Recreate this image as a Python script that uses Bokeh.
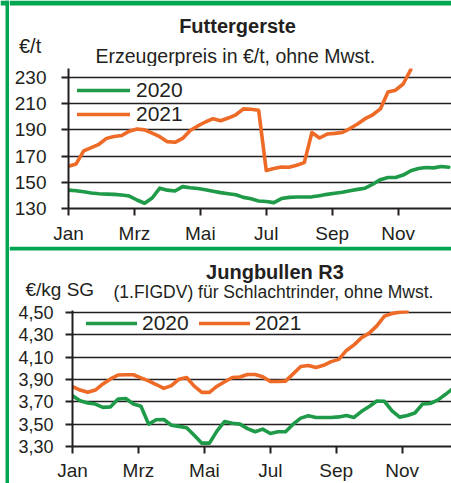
from bokeh.plotting import figure
from bokeh.models import FixedTicker, Legend, LegendItem, Label, Range1d, BoxAnnotation
from bokeh.layouts import column, row
from bokeh.embed import file_html
from bokeh.resources import INLINE

# ---------------- data ----------------
month_labels = ["Jan", "Mrz", "Mai", "Jul", "Sep", "Nov"]
month_ticks = [0, 2, 4, 6, 8, 10]

# Futtergerste, Erzeugerpreis in €/t (weekly)
gerste_2020 = [144, 143.5, 142.8, 141.8, 141.3, 141, 140.8, 140.3, 139.5, 136.5,
               134, 138, 145.5, 144, 143.3, 146.7, 145.8, 145.2, 144.3, 143.2,
               142.1, 141.3, 140.5, 138.5, 137.5, 135.7, 135.3, 134.5, 137.6, 138.5,
               138.8, 138.8, 138.9, 139.8, 140.8, 141.6, 142.4, 143.6, 144.6, 145.5,
               148.5, 152, 153.6, 153.7, 155.5, 158.8, 160.5, 161.3, 161, 162, 161.5]
gerste_2021 = [162.3, 164, 174, 176.5, 179, 183.5, 185, 185.7, 189, 190.6,
               190, 187.5, 184.8, 181, 180.5, 183.5, 189.5, 193, 196, 198.5,
               197, 199, 201.5, 206, 205.7, 205, 159, 160.5, 161.7, 161.5,
               163, 165, 188, 183.8, 186.8, 187.3, 188, 191, 194.5, 198.5,
               201.5, 206, 218.8, 220.3, 225, 236]
gerste_ticks = [130, 150, 170, 190, 210, 230]

# Jungbullen R3, €/kg SG (weekly)
bullen_2020 = [3.754, 3.71, 3.69, 3.68, 3.65, 3.655, 3.725, 3.73, 3.68, 3.66,
               3.50, 3.54, 3.542, 3.49, 3.48, 3.468, 3.40, 3.33, 3.33, 3.44,
               3.524, 3.508, 3.50, 3.46, 3.432, 3.456, 3.416, 3.432, 3.432, 3.50,
               3.554, 3.575, 3.56, 3.56, 3.56, 3.565, 3.578, 3.56, 3.615, 3.658,
               3.707, 3.705, 3.62, 3.563, 3.577, 3.60, 3.68, 3.685, 3.715, 3.765, 3.82]
bullen_2021 = [3.837, 3.805, 3.786, 3.805, 3.86, 3.905, 3.94, 3.942, 3.942, 3.915,
               3.888, 3.855, 3.82, 3.845, 3.903, 3.918, 3.84, 3.785, 3.785, 3.84,
               3.88, 3.918, 3.922, 3.945, 3.945, 3.925, 3.882, 3.882, 3.885, 3.95,
               4.016, 4.025, 4.007, 4.027, 4.06, 4.08, 4.16, 4.21, 4.275, 4.315,
               4.38, 4.467, 4.49, 4.503, 4.506]
bullen_ticks = [3.30, 3.50, 3.70, 3.90, 4.10, 4.30, 4.50]
bullen_tick_labels = ["3,30", "3,50", "3,70", "3,90", "4,10", "4,30", "4,50"]


def weeks(n):
    return [i * 12 / 52 for i in range(n)]


# ---------------- style ----------------
FONT = "Liberation Sans"
INK = "#231f20"
GREEN = "#1e9a48"
ORANGE = "#ee6a27"
FRAME_GREEN = "#00a651"
TOTAL_W, TOTAL_H = 451, 483
COL_X = 9                       # content column starts here
CW = TOTAL_W - COL_X            # 442
BASE_SHIFT = 5                  # label baseline correction (px)


def blank(x0, x1, top, bottom):
    """Figure without axes whose data units are page pixels (y downwards)."""
    h = figure(width=x1 - x0, height=bottom - top, output_backend="svg",
               toolbar_location=None, title=None, frame_align=False,
               x_axis_location=None, y_axis_location=None, min_border=0,
               x_range=Range1d(x0, x1), y_range=Range1d(bottom, top))
    h.grid.visible = False
    h.outline_line_color = None
    h.background_fill_color = "white"
    h.border_fill_color = "white"
    return h


def green_box(h, left, right, top, bottom):
    h.add_layout(BoxAnnotation(left=left, right=right, top=top, bottom=bottom,
                               fill_color=FRAME_GREEN, fill_alpha=1,
                               line_color=None))


def header(top, bottom, texts):
    h = blank(COL_X, TOTAL_W, top, bottom)
    for (x, y, txt, align, size, bold) in texts:
        h.add_layout(Label(x=x, y=y - BASE_SHIFT, text=txt, text_align=align,
                           text_baseline="alphabetic",
                           text_font=FONT, text_font_size=size, text_color=INK,
                           text_font_style="bold" if bold else "normal"))
    return h


def chart(height, left, top, fh, ppx, y0, ppy, yticks, ylabels, ystand, xstand,
          ysize="19px"):
    fw = CW - left
    p = figure(width=CW, height=height, output_backend="svg", toolbar_location=None,
               title=None, frame_align=False,
               x_range=Range1d(0, fw / ppx), y_range=Range1d(y0, y0 + fh / ppy),
               min_border_left=left, min_border_right=0, min_border_top=top,
               min_border_bottom=height - top - fh)
    p.outline_line_color = None
    p.background_fill_color = "white"
    p.border_fill_color = "white"
    p.xgrid.visible = False
    p.ygrid.ticker = FixedTicker(ticks=yticks)
    p.ygrid.grid_line_color = INK
    p.ygrid.grid_line_width = 1.6
    for ax in (p.xaxis[0], p.yaxis[0]):
        ax.axis_line_color = INK
        ax.axis_line_width = 2
        ax.major_tick_line_color = INK
        ax.major_tick_line_width = 2
        ax.major_tick_in = 0
        ax.major_tick_out = 7
        ax.minor_tick_line_color = None
        ax.major_label_text_font = FONT
        ax.major_label_text_color = INK
    p.xaxis.major_label_text_font_size = "19px"
    p.yaxis.major_label_text_font_size = ysize
    p.xaxis.ticker = FixedTicker(ticks=month_ticks)
    p.xaxis.major_label_overrides = {t: l for t, l in zip(month_ticks, month_labels)}
    p.yaxis.ticker = FixedTicker(ticks=yticks)
    p.yaxis.major_label_overrides = {t: l for t, l in zip(yticks, ylabels)}
    p.yaxis.major_label_standoff = ystand
    p.xaxis.major_label_standoff = xstand
    return p


def legend(items, location, orientation, glyph_w, standoff, spacing):
    return Legend(items=items, location=location, orientation=orientation,
                  label_text_font=FONT, label_text_font_size="21px", label_text_color=INK,
                  glyph_width=glyph_w, glyph_height=24, label_height=24,
                  label_standoff=standoff, spacing=spacing, padding=0, margin=0,
                  border_line_color=None, background_fill_alpha=0)


# ---------------- left frame strip (page x 0..9) ----------------
strip = blank(0, COL_X, 0, TOTAL_H)
green_box(strip, 0, COL_X, 0, 5)
green_box(strip, 5, COL_X, 0, TOTAL_H)

# ---------------- top block (page y 0..246) ----------------
head1 = header(0, 66, [
    (237, 30.7, "Futtergerste", "center", "20px", True),
    (18.5, 50, "€/t", "left", "20px", False),
    (95, 60, "Erzeugerpreis in €/t, ohne Mwst.", "left", "19.5px", False),
])
green_box(head1, COL_X, TOTAL_W, 0, 5)

p1 = chart(180, 59, 2, 141, 32.96, 130, 1.32, gerste_ticks,
           [str(t) for t in gerste_ticks], 15, 7)
r1a = p1.line(weeks(len(gerste_2020)), gerste_2020, line_color=GREEN, line_width=3.6,
              line_join="round", line_cap="round")
r1b = p1.line(weeks(len(gerste_2021)), gerste_2021, line_color=ORANGE, line_width=3.6,
              line_join="round", line_cap="round")
p1.add_layout(legend([LegendItem(label="2020", renderers=[r1a]),
                      LegendItem(label="2021", renderers=[r1b])],
                     (9, 82), "vertical", 53, 6, 0))

# ---------------- bottom block (page y 246..483) ----------------
head2 = header(246, 302, [
    (274.5, 276.5, "Jungbullen R3", "center", "20px", True),
    (25, 294, "€/kg SG", "left", "19px", False),
    (113, 296.2, "(1.FIGDV) für Schlachtrinder, ohne Mwst.", "left", "17.5px", False),
])
green_box(head2, COL_X, TOTAL_W, 246, 250)

p2 = chart(181, 63, 8, 136, 32.97, 3.30, 111.7, bullen_ticks, bullen_tick_labels,
           12, 6, ysize="18px")
r2a = p2.line(weeks(len(bullen_2020)), bullen_2020, line_color=GREEN, line_width=3.6,
              line_join="round", line_cap="round")
r2b = p2.line(weeks(len(bullen_2021)), bullen_2021, line_color=ORANGE, line_width=3.6,
              line_join="round", line_cap="round")
p2.add_layout(legend([LegendItem(label="2020", renderers=[r2a]),
                      LegendItem(label="2021", renderers=[r2b])],
                     (14, 111), "horizontal", 51, 5, 10))

content = column(head1, p1, head2, p2, spacing=0)
layout = row(strip, content, spacing=0)

open("out.html", "w").write(file_html(layout, INLINE))
